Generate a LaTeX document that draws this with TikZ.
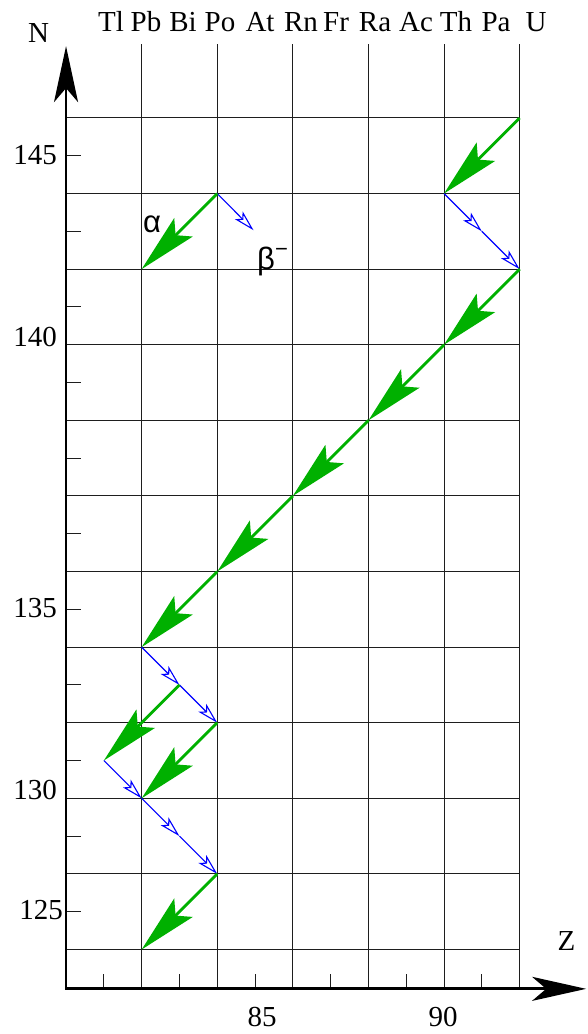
\documentclass[tikz,border=0pt]{standalone}
\usepackage{fontspec}
\setmainfont{Liberation Serif}
\newfontfamily\greekfont{Liberation Sans}
\usetikzlibrary{arrows.meta}
\definecolor{alphagreen}{RGB}{0,176,0}
\definecolor{betablue}{RGB}{0,0,255}
\definecolor{gridgray}{RGB}{30,30,30}
\begin{document}
\begin{tikzpicture}[x=37.8pt,y=37.8pt,
  gridline/.style={draw=gridgray,line width=1.05pt},
  axisline/.style={draw=black,line width=2.8pt,line join=miter,
    {Stealth[length=56pt,width=24pt,inset=14pt]}-{Stealth[length=54pt,width=24pt,inset=14pt]}},
  ticksty/.style={draw=gridgray,line width=1.05pt},
  alphaarrow/.style={draw=alphagreen,line width=2.8pt,-{Stealth[length=59pt,width=26pt,inset=11pt]}},
  betaarrow/.style={draw=betablue,line width=1.1pt,-{Stealth[open,length=21pt,width=11pt,inset=5pt]}},
  lbl/.style={inner sep=0pt,font=\fontsize{29}{29}\selectfont},
  glbl/.style={inner sep=0pt,font=\greekfont\fontsize{31}{31}\selectfont}]
\useasboundingbox (78.2540,121.7672) rectangle (93.7831,149.1217);

% grid
\foreach \n in {124,126,...,146} \draw[gridline] (80,\n) -- (92,\n);
\foreach \z in {82,84,...,92} \draw[gridline] (\z,122.96) -- (\z,147.95);
% ticks
\foreach \n in {125,127,...,145} \draw[ticksty] (80,\n) -- (80.4,\n);
\foreach \z in {81,83,...,91} \draw[ticksty] (\z,122.96) -- (\z,123.36);

% axes
\coordinate (origin) at (80,122.96);
\coordinate (ytip) at (80,147.90);
\coordinate (xtip) at (93.76,122.96);
\draw[axisline] (ytip) -- (origin) -- (xtip);

% axis titles
\node[lbl,anchor=base] (Nlabel) at (79.273,147.984) {N};
\node[lbl,anchor=base] (Zlabel) at (93.241,123.963) {Z};

% element names
\foreach \el/\zz in {Tl/81.190,Pb/82.116,Bi/83.095,Po/84.074,At/85.132,Rn/86.217,Fr/87.143,Ra/88.175,Ac/89.259,Th/90.317,Pa/91.376,U/92.434}
  \node[lbl,anchor=base] (el-\el) at (\zz,148.275) {\el};

% N numbers
\node[lbl,anchor=base east] (n145) at (79.762,144.757) {145};
\node[lbl,anchor=base east] (n140) at (79.762,139.942) {140};
\node[lbl,anchor=base east] (n135) at (79.762,132.772) {135};
\node[lbl,anchor=base east] (n130) at (79.762,127.958) {130};
\node[lbl,anchor=base east] (n125) at (79.921,124.783) {125};
% Z numbers
\node[lbl,anchor=base] (z85) at (85.185,121.952) {85};
\node[lbl,anchor=base] (z90) at (89.974,121.952) {90};

% nuclides
\coordinate (U238) at (92,146);
\coordinate (Th234) at (90,144);
\coordinate (Pa234) at (91,143);
\coordinate (U234) at (92,142);
\coordinate (Th230) at (90,140);
\coordinate (Ra226) at (88,138);
\coordinate (Rn222) at (86,136);
\coordinate (Po218) at (84,134);
\coordinate (Pb214) at (82,132);
\coordinate (Bi214) at (83,131);
\coordinate (Po214) at (84,130);
\coordinate (Tl210) at (81,129);
\coordinate (Pb210) at (82,128);
\coordinate (Bi210) at (83,127);
\coordinate (Po210) at (84,126);
\coordinate (Pb206) at (82,124);
% legend points
\coordinate (LA) at (84,144);
\coordinate (LB) at (82,142);
\coordinate (LC) at (84.96,143.03);

% beta decays
\draw[betaarrow] (Th234) -- (Pa234);
\draw[betaarrow] (Pa234) -- (U234);
\draw[betaarrow] (Pb214) -- (Bi214);
\draw[betaarrow] (Bi214) -- (Po214);
\draw[betaarrow] (Tl210) -- (Pb210);
\draw[betaarrow] (Pb210) -- (Bi210);
\draw[betaarrow] (Bi210) -- (Po210);
\draw[betaarrow] (LA) -- (LC);

% alpha decays
\draw[alphaarrow] (U238) -- (Th234);
\draw[alphaarrow] (U234) -- (Th230);
\draw[alphaarrow] (Th230) -- (Ra226);
\draw[alphaarrow] (Ra226) -- (Rn222);
\draw[alphaarrow] (Rn222) -- (Po218);
\draw[alphaarrow] (Po218) -- (Pb214);
\draw[alphaarrow] (Bi214) -- (Tl210);
\draw[alphaarrow] (Po214) -- (Pb210);
\draw[alphaarrow] (Po210) -- (Pb206);
\draw[alphaarrow] (LA) -- (LB);

% legend labels
\node[glbl,anchor=base] (alphalbl) at (82.275,142.958) {α};
\node[glbl,anchor=base west] (betalbl) at (85.053,141.979) {β\raisebox{0.42em}{\fontsize{22}{22}\selectfont −}};
\end{tikzpicture}
\end{document}
